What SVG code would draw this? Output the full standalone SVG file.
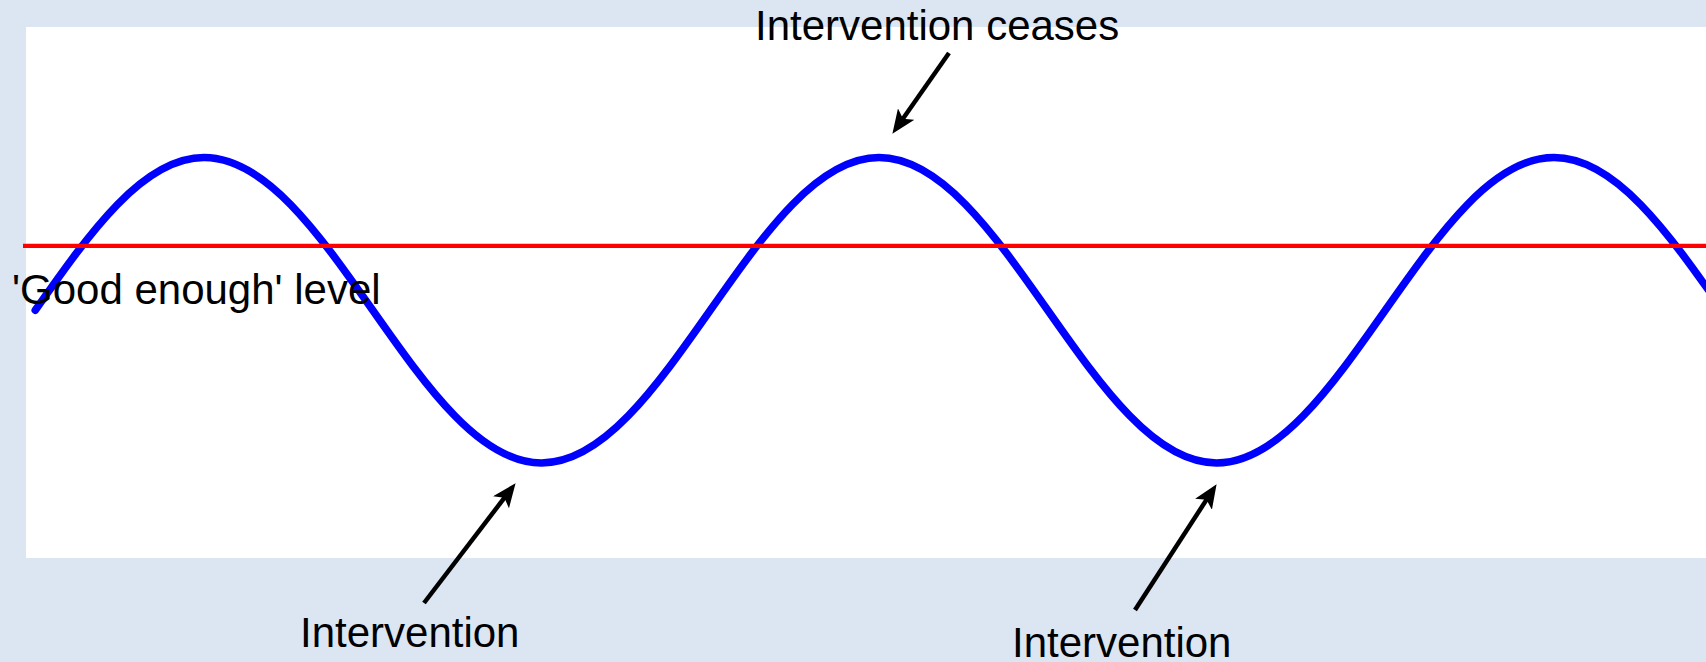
<svg xmlns="http://www.w3.org/2000/svg" width="1706" height="662" viewBox="0 0 1706 662">
  <style>
    .lbl { font-family: "Liberation Sans", Arial, sans-serif; font-size: 42px; fill: #000000; }
    .conn { stroke: #000000; stroke-width: 4.5; fill: none; marker-end: url(#arrow); }
  </style>
  <defs>
    <marker id="arrow" markerUnits="userSpaceOnUse" markerWidth="24" markerHeight="20" viewBox="0 0 24 20" refX="13" refY="10" orient="auto">
      <path d="M0,0 L24,10 L0,20 L5.5,10 Z" fill="#000000"/>
    </marker>
  </defs>
  <rect x="0" y="0" width="1706" height="662" fill="#dce6f2"/>
  <rect x="26" y="27" width="1680" height="531" fill="#ffffff"/>
  <g id="wave">
    <path d="M35.25,310.25 c55.03,-78.25 107.68,-152.75 168.75,-152.75 c61.07,0 113.72,74.5 168.75,152.75 c55.03,78.25 107.68,152.75 168.75,152.75 c61.07,0 113.72,-74.5 168.75,-152.75 c55.03,-78.25 107.68,-152.75 168.75,-152.75 c61.07,0 113.72,74.5 168.75,152.75 c55.03,78.25 107.68,152.75 168.75,152.75 c61.07,0 113.72,-74.5 168.75,-152.75 c55.03,-78.25 107.68,-152.75 168.75,-152.75 c61.07,0 113.72,74.5 168.75,152.75" fill="none" stroke="#0000ff" stroke-width="7.5" stroke-linecap="round"/>
  </g>
  <g id="good-enough-line">
    <line x1="23" y1="245.8" x2="1706" y2="245.8" stroke="#ff0000" stroke-width="4.3"/>
  </g>
  <g id="label-good-enough">
    <text class="lbl" x="12" y="304">'Good enough' level</text>
  </g>
  <g id="label-ceases">
    <text class="lbl" x="755" y="40">Intervention ceases</text>
  </g>
  <g id="label-intervention-1">
    <text class="lbl" x="300" y="647">Intervention</text>
  </g>
  <g id="label-intervention-2">
    <text class="lbl" x="1012" y="657">Intervention</text>
  </g>
  <g id="connectors">
    <line class="conn" x1="949" y1="53" x2="898.7" y2="124.8"/>
    <line class="conn" x1="424" y1="603" x2="508.9" y2="491.9"/>
    <line class="conn" x1="1135" y1="610" x2="1210.6" y2="493.4"/>
  </g>
</svg>
